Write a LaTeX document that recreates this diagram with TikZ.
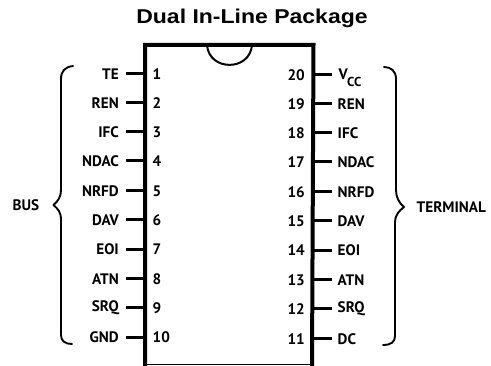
\documentclass[tikz,border=0pt]{standalone}
\usepackage{fontspec}
\setmainfont{Liberation Sans}
\newfontfamily\pinfont{PT Sans}
\newfontfamily\ttlfont[FakeStretch=1.15]{Liberation Sans}
\tikzset{
  pkg/.style={line width=4pt,line join=miter},
  pinline/.style={line width=3pt},
  bracket/.style={line width=1.9pt,line cap=round,line join=round},
  lab/.style={inner sep=0pt,font=\pinfont\bfseries\fontsize{15.2}{16}\selectfont},
  title/.style={inner sep=0pt,font=\ttlfont\bfseries\fontsize{20}{22}\selectfont}
}
\begin{document}
\begin{tikzpicture}[x=1pt,y=-1pt]
\useasboundingbox (0,0) rectangle (491,366);
\node[title] (ttl) at (252,18) {Dual In-Line Package};
% package outline
\coordinate (bl) at (145,366);
\coordinate (tl) at (145,45);
\coordinate (nl) at (207,45);
\coordinate (nr) at (252,45);
\coordinate (tr) at (313.5,45);
\coordinate (br) at (312,366);
\draw[pkg] (bl) -- (tl) -- (nl) -- (nr) -- (tr) -- (br);
\draw[line width=2pt] (nl) .. controls (209,71.5) and (250,71.5) .. (nr);
\draw[line width=1.6pt] (145,364.5) -- (312,364.5);
% left pins
\foreach \n/\t/\y in {1/TE/74,2/REN/103,3/IFC/132,4/NDAC/161,5/NRFD/191,6/DAV/220,7/EOI/249.5,8/ATN/279,9/SRQ/308,10/GND/337.5}{
  \node[lab,anchor=east] (l\n) at (119,\y) {\t};
  \node[lab,anchor=west] (p\n) at (152.5,\y) {\n};
  \coordinate (a\n) at (126,\y);
  \coordinate (b\n) at (145,\y);
  \draw[pinline] (a\n) -- (b\n);
}
% right pins
\foreach \n/\t/\y in {19/REN/104,18/IFC/133,17/NDAC/162,16/NRFD/192,15/DAV/221,14/EOI/250.5,13/ATN/280,12/SRQ/309,11/DC/339}{
  \node[lab,anchor=west] (l\n) at (337.5,\y) {\t};
  \node[lab,anchor=east] (p\n) at (305,\y) {\n};
  \coordinate (a\n) at (332,\y);
  \coordinate (b\n) at (313,\y);
  \draw[pinline] (a\n) -- (b\n);
}
\node[lab,anchor=west] (l20) at (338.5,74) {V};
\node[lab,anchor=west,font=\pinfont\bfseries\fontsize{13}{14}\selectfont] (l20s) at (347,81.5) {CC};
\node[lab,anchor=east] (p20) at (305,75) {20};
\coordinate (a20) at (332,75);
\coordinate (b20) at (313,75);
\draw[pinline] (a20) -- (b20);
% braces
\draw[bracket] (73,66) .. controls (65,67) and (61,71) .. (61,79) -- (61,190)
  .. controls (61,197) and (58,201) .. (53.5,205) .. controls (58,209) and (61,212) .. (61,220)
  -- (61,335) .. controls (61,341) and (65,344) .. (72,344);
\draw[bracket] (384,67) .. controls (391,67) and (396,71) .. (396,79) -- (396,190)
  .. controls (396,197) and (399,203) .. (404,207) .. controls (399,211) and (395,215) .. (395,222)
  -- (395,336) .. controls (395,342) and (391,345) .. (383,345);
\node[lab,anchor=west] (bus) at (12.5,205) {BUS};
\node[lab,anchor=west] (term) at (416.5,207) {TERMINAL};
\end{tikzpicture}
\end{document}
